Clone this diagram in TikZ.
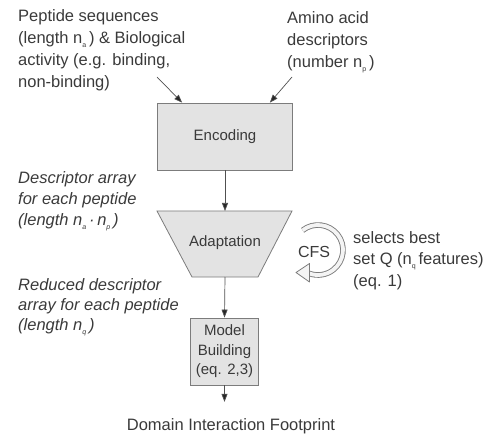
\documentclass[tikz,border=0pt]{standalone}
\usepackage{fontspec}
\setmainfont{Liberation Sans}
\usetikzlibrary{arrows.meta,calc}
\definecolor{txt}{HTML}{3A3A3A}
\definecolor{boxfill}{HTML}{E3E3E3}
\definecolor{boxline}{HTML}{7C7C7C}
\definecolor{arr}{HTML}{505050}
\definecolor{cfsband}{HTML}{F4F4F4}
\newcommand\subs[1]{\raisebox{-0.45ex}{\fontsize{7}{7}\selectfont #1}}
\begin{document}
\begin{tikzpicture}[x=1pt,y=-1pt,
  lbl/.style={inner sep=0pt, text=txt, align=left, anchor=north west},
  big/.style={font=\fontsize{16.5}{22}\selectfont},
  procbox/.style={draw=boxline, fill=boxfill, line width=0.8pt, text=txt,
    font=\fontsize{15}{19.5}\selectfont, inner sep=0pt, align=center},
  flow/.style={draw=arr, line width=0.7pt, -{Triangle[length=8pt,width=6pt,fill=black!85]}}]
\useasboundingbox (0,0) rectangle (491,436);

% top texts
\node[lbl, big] (pep) at (18,9) {Peptide sequences\\(length n\subs{a}\,) \& Biological\\activity (e.g. binding,\\non-binding)};
\node[lbl, big] (amino) at (287,11) {Amino acid\\descriptors\\(number n\subs{p}\,)};

% encoding
\node[procbox, minimum width=135pt, minimum height=67pt] (enc) at (225,136.5) {Encoding};

\coordinate (pa) at (157,77);
\coordinate (pb) at (292,77);
\draw[flow] (pa) -- ($(enc.north west)+(25,0)$);
\draw[flow] (pb) -- ($(enc.north east)+(-23,0)$);

% adaptation trapezoid
\coordinate (adtop) at (225,211);
\coordinate (adbot) at (225,277);
\filldraw[draw=boxline, fill=boxfill, line width=0.8pt]
  (157,211) -- (292,211) -- (258,277) -- (192,277) -- cycle;
\node[text=txt, font=\fontsize{15}{19.5}\selectfont, inner sep=0pt] (adapt) at (225,243) {Adaptation};
\draw[flow] (enc.south) -- (adtop);

% left italic texts
\node[lbl, font=\fontsize{16.5}{21}\selectfont\itshape] (desc) at (18,171) {Descriptor array\\for each peptide\\(length n\subs{a}\,·\,n\subs{p}\,)};
\node[lbl, font=\fontsize{16.5}{20}\selectfont\itshape] (red) at (18,278) {Reduced descriptor\\array for each peptide\\(length n\subs{q}\,)};

% CFS loop
\node[text=txt, font=\fontsize{16}{19}\selectfont, inner sep=0pt] (cfs) at (314,252) {CFS};
\draw[boxline, line width=5.6pt] (302.6,230.3) arc[start angle=-128, end angle=110, radius=25];
\draw[cfsband, line width=3.8pt] (302.6,230.3) arc[start angle=-128, end angle=110, radius=25];
\filldraw[draw=boxline, fill=cfsband, line width=0.8pt, line join=round]
  (296,272.5) -- (309.5,263.5) -- (309.5,282) -- cycle;
\node[lbl, font=\fontsize{16.5}{21.5}\selectfont] (sel) at (353,231) {selects best\\set Q (n\subs{q}\,features)\\(eq. 1)};

% model building
\node[procbox, minimum width=68pt, minimum height=67pt] (model) at (224.5,351.5) {Model\\Building\\(eq. 2,3)};
\draw[flow] (adbot) -- (model.north);

% output
\node[inner sep=0pt, text=txt, big, anchor=base] (dom) at (231,430) {Domain Interaction Footprint};
\draw[flow, shorten >=16pt] (model.south) -- (model.south |- dom.north);
\end{tikzpicture}
\end{document}
